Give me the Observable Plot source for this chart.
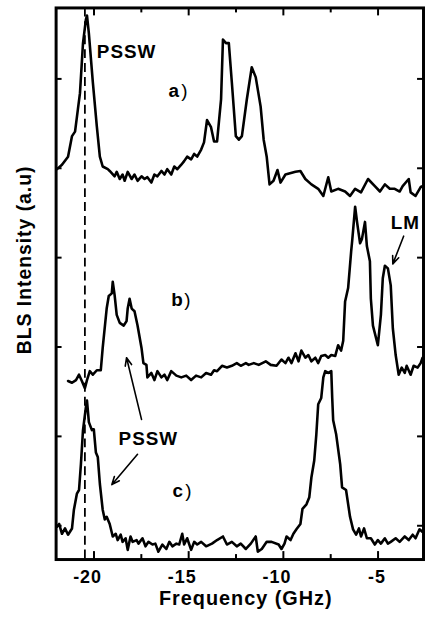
<!DOCTYPE html>
<html>
<head>
<meta charset="utf-8">
<script src="https://cdn.jsdelivr.net/npm/d3@7"></script>
<script src="https://cdn.jsdelivr.net/npm/@observablehq/plot@0.6"></script>
<style>
  html, body { margin: 0; padding: 0; overflow: hidden; background: #fff; }
  svg text { letter-spacing: 1px; }
</style>
</head>
<body>
<div id="chart"></div>
<script>
// BLS spectra (anti-Stokes side), stacked with vertical offsets: [frequency GHz, intensity a.u.]
const spectrumA = [
  [-21.95,3.99],[-21.69,4.04],[-21.37,4.13],[-21.16,4.36],[-21.00,4.41],[-20.85,4.66],[-20.74,4.84],
  [-20.58,5.40],[-20.43,5.66],[-20.37,5.71],[-20.27,5.51],[-20.06,4.96],[-19.85,4.47],[-19.69,4.13],
  [-19.54,4.02],[-19.27,3.99],[-19.17,3.97],[-18.91,3.91],[-18.80,3.96],[-18.64,3.88],[-18.49,3.93],
  [-18.38,3.86],[-18.22,3.96],[-18.01,3.88],[-17.86,3.93],[-17.70,3.86],[-17.49,3.91],[-17.33,3.88],
  [-17.18,3.90],[-16.97,3.84],[-16.81,3.93],[-16.65,3.91],[-16.44,3.97],[-16.28,3.93],[-16.13,3.99],
  [-15.92,3.93],[-15.76,4.02],[-15.60,3.99],[-15.39,4.04],[-15.24,4.08],[-15.08,4.13],[-14.87,4.10],
  [-14.71,4.16],[-14.55,4.13],[-14.34,4.21],[-14.19,4.29],[-14.03,4.54],[-13.82,4.46],[-13.66,4.30],
  [-13.50,4.30],[-13.29,4.77],[-13.19,5.44],[-13.03,5.40],[-12.88,5.40],[-12.72,4.96],[-12.51,4.36],
  [-12.35,4.32],[-12.19,4.36],[-11.93,4.77],[-11.67,5.13],[-11.46,5.02],[-11.20,4.69],[-11.04,4.32],
  [-10.88,4.13],[-10.73,3.82],[-10.52,3.86],[-10.31,3.98],[-10.15,3.84],[-9.89,3.93],[-9.36,3.96],
  [-9.10,3.97],[-8.84,3.88],[-8.52,3.82],[-8.16,3.77],[-7.89,3.69],[-7.63,3.90],[-7.47,3.74],
  [-7.11,3.77],[-6.74,3.74],[-6.48,3.69],[-6.21,3.77],[-5.90,3.73],[-5.53,3.88],[-5.17,3.80],
  [-4.90,3.74],[-4.64,3.82],[-4.38,3.77],[-4.12,3.77],[-3.86,3.74],[-3.70,3.80],[-3.38,3.88],
  [-3.28,3.73],[-3.02,3.69],[-2.75,3.79],[-2.65,3.80]
];

const spectrumB = [
  [-21.37,1.62],[-21.16,1.60],[-20.95,1.63],[-20.79,1.69],[-20.64,1.62],[-20.48,1.54],[-20.37,1.63],
  [-20.22,1.73],[-20.06,1.69],[-19.85,1.74],[-19.64,1.74],[-19.54,1.99],[-19.33,2.43],[-19.22,2.57],
  [-19.06,2.60],[-19.01,2.73],[-18.91,2.58],[-18.80,2.36],[-18.64,2.27],[-18.43,2.24],[-18.28,2.29],
  [-18.22,2.43],[-18.12,2.54],[-18.01,2.43],[-17.86,2.40],[-17.70,2.24],[-17.49,1.99],[-17.39,1.82],
  [-17.23,1.80],[-17.18,1.66],[-16.97,1.71],[-16.81,1.63],[-16.65,1.73],[-16.44,1.66],[-16.28,1.69],
  [-16.13,1.63],[-15.92,1.73],[-15.65,1.68],[-15.39,1.66],[-15.13,1.68],[-14.87,1.63],[-14.61,1.68],
  [-14.34,1.66],[-14.08,1.71],[-13.82,1.69],[-13.66,1.74],[-13.50,1.73],[-13.24,1.79],[-12.98,1.77],
  [-12.72,1.79],[-12.46,1.82],[-12.25,1.79],[-11.98,1.82],[-11.83,1.80],[-11.56,1.82],[-11.30,1.80],
  [-10.93,1.84],[-10.67,1.80],[-10.36,1.79],[-10.10,1.86],[-9.89,1.82],[-9.73,1.88],[-9.57,1.82],
  [-9.36,1.93],[-9.20,1.84],[-9.05,1.96],[-8.84,1.88],[-8.68,1.91],[-8.52,1.84],[-8.31,1.88],
  [-8.16,1.82],[-8.00,1.90],[-7.79,1.91],[-7.63,1.88],[-7.47,1.91],[-7.26,1.90],[-7.11,2.02],
  [-6.95,1.96],[-6.84,2.07],[-6.74,2.51],[-6.58,2.66],[-6.42,3.07],[-6.37,3.18],[-6.21,3.57],
  [-6.11,3.40],[-5.95,3.16],[-5.85,3.21],[-5.69,3.40],[-5.59,3.13],[-5.43,2.96],[-5.38,2.54],
  [-5.27,2.24],[-5.01,2.02],[-4.85,2.36],[-4.75,2.77],[-4.64,2.91],[-4.48,2.88],[-4.33,2.69],
  [-4.22,2.21],[-4.07,1.91],[-3.91,1.69],[-3.75,1.77],[-3.59,1.71],[-3.49,1.79],[-3.28,1.69],
  [-3.12,1.79],[-2.91,1.77],[-2.75,1.82],[-2.65,1.88]
];

const spectrumC = [
  [-21.95,-0.01],[-21.84,0.02],[-21.69,-0.09],[-21.53,-0.03],[-21.37,-0.10],[-21.16,-0.03],[-21.06,0.18],
  [-20.90,0.36],[-20.79,0.40],[-20.69,0.69],[-20.58,1.07],[-20.43,1.32],[-20.37,1.40],[-20.27,1.16],
  [-20.11,1.07],[-20.01,1.08],[-19.90,0.82],[-19.80,0.77],[-19.69,0.47],[-19.54,0.18],[-19.43,0.07],
  [-19.33,0.10],[-19.17,0.02],[-19.01,-0.12],[-18.85,-0.09],[-18.75,-0.16],[-18.59,-0.10],[-18.49,-0.18],
  [-18.33,-0.14],[-18.22,-0.27],[-18.07,-0.12],[-17.96,-0.18],[-17.75,-0.16],[-17.65,-0.20],[-17.44,-0.14],
  [-17.28,-0.23],[-17.12,-0.18],[-16.91,-0.21],[-16.76,-0.20],[-16.60,-0.29],[-16.39,-0.21],[-16.18,-0.26],
  [-16.02,-0.18],[-15.86,-0.23],[-15.65,-0.20],[-15.50,-0.21],[-15.34,-0.09],[-15.24,-0.21],[-15.08,-0.14],
  [-14.87,-0.27],[-14.71,-0.18],[-14.55,-0.21],[-14.34,-0.18],[-14.08,-0.23],[-13.77,-0.20],[-13.50,-0.16],
  [-13.19,-0.12],[-12.98,-0.21],[-12.72,-0.18],[-12.46,-0.23],[-12.25,-0.20],[-11.98,-0.26],[-11.72,-0.20],
  [-11.46,-0.12],[-11.35,-0.29],[-11.14,-0.26],[-10.88,-0.18],[-10.62,-0.18],[-10.25,-0.21],[-10.10,-0.26],
  [-9.94,-0.20],[-9.83,-0.12],[-9.62,-0.16],[-9.47,-0.09],[-9.31,-0.04],[-9.10,0.02],[-8.99,0.19],
  [-8.78,0.24],[-8.63,0.32],[-8.52,0.54],[-8.37,0.73],[-8.26,1.02],[-8.16,1.36],[-8.00,1.43],
  [-7.89,1.66],[-7.79,1.73],[-7.63,1.71],[-7.47,1.73],[-7.42,1.43],[-7.37,1.18],[-7.21,1.02],
  [-7.00,0.69],[-6.90,0.43],[-6.69,0.40],[-6.48,0.10],[-6.32,-0.04],[-6.16,-0.10],[-6.01,-0.03],
  [-5.90,-0.12],[-5.74,-0.03],[-5.59,-0.14],[-5.38,-0.14],[-5.17,-0.21],[-5.01,-0.16],[-4.85,-0.20],
  [-4.64,-0.14],[-4.48,-0.20],[-4.33,-0.18],[-4.07,-0.14],[-3.86,-0.18],[-3.59,-0.12],[-3.38,-0.16],
  [-3.17,-0.10],[-3.02,-0.14],[-2.81,-0.04],[-2.65,-0.07]
];

// PSSW reference frequency (dashed line)
const psswFrequency = [-20.48];

// Axis ticks
const majorTicks = [-20, -15, -10, -5];
const minorTicks = [-17.5, -12.5, -7.5];
const yTicks = [0, 1, 2, 3, 4, 5];

// Annotations
const boldLabels = [
  {text: "PSSW", f: -19.85, v: 5.23},
  {text: "LM", f: -4.33, v: 3.32},
  {text: "PSSW", f: -18.70, v: 0.90}
];
const panelLabels = [
  {text: "a", f: -16.07, v: 4.80},
  {text: "b", f: -15.92, v: 2.46},
  {text: "c", f: -15.86, v: 0.32}
];
const arrows = [
  {f1: -17.49, v1: 1.19, f2: -18.28, v2: 1.88},
  {f1: -17.70, v1: 0.80, f2: -19.06, v2: 0.46},
  {f1: -3.65, v1: 3.24, f2: -4.22, v2: 2.93}
];

const width = 428, height = 622;
const marginTop = 7.5, marginBottom = 59, marginLeft = 56, marginRight = 2;
const frameW = width - marginLeft - marginRight;
const frameH = height - marginTop - marginBottom;
const font = "'Liberation Sans', Arial, Helvetica, sans-serif";

const chart = Plot.plot({
  width, height, marginTop, marginBottom, marginLeft, marginRight,
  style: {fontFamily: font, background: "#fff", color: "#000"},
  x: {domain: [-22, -2.6], axis: null},
  y: {domain: [-0.378, 5.794], axis: null},
  marks: [
    Plot.ruleX(psswFrequency, {x: d => d, stroke: "#000", strokeWidth: 1.8, strokeDasharray: "9,5"}),
    ...[spectrumA, spectrumB, spectrumC].map(s =>
      Plot.line(s, {x: d => d[0], y: d => d[1], stroke: "#000", strokeWidth: 2.6, strokeLinejoin: "round"})
    ),
    // inward ticks on all four sides
    Plot.tickX(majorTicks, {x: d => d, insetTop: frameH - 8, strokeWidth: 2}),
    Plot.tickX(minorTicks, {x: d => d, insetTop: frameH - 5, strokeWidth: 2}),
    Plot.tickX(majorTicks, {x: d => d, insetBottom: frameH - 8, strokeWidth: 2}),
    Plot.tickX(minorTicks, {x: d => d, insetBottom: frameH - 5, strokeWidth: 2}),
    Plot.tickY(yTicks, {y: d => d, insetRight: frameW - 6, strokeWidth: 2}),
    Plot.tickY(yTicks, {y: d => d, insetLeft: frameW - 6, strokeWidth: 2}),
    Plot.frame({stroke: "#000", strokeWidth: 3}),
    // tick labels and axis titles
    Plot.text(majorTicks, {
      x: d => d, text: d => String(d), frameAnchor: "bottom", dy: 24, dx: 8,
      textAnchor: "end", lineAnchor: "bottom", fontSize: 18, fontWeight: "bold"
    }),
    Plot.text(["Frequency (GHz)"], {
      text: d => d, frameAnchor: "bottom", dy: 46, dx: 6,
      lineAnchor: "bottom", fontSize: 20, fontWeight: "bold"
    }),
    Plot.text(["BLS Intensity (a.u)"], {
      text: d => d, frameAnchor: "left", dx: -32, dy: -24, rotate: -90,
      textAnchor: "middle", lineAnchor: "middle", fontSize: 19.5, fontWeight: "bold"
    }),
    // annotations
    Plot.text(boldLabels, {
      x: "f", y: "v", text: "text", textAnchor: "start", lineAnchor: "bottom",
      fontSize: 19, fontWeight: "bold"
    }),
    Plot.text(panelLabels, {
      x: "f", y: "v", text: "text", textAnchor: "start", lineAnchor: "bottom",
      fontSize: 19, fontWeight: "bold"
    }),
    Plot.text(panelLabels, {
      x: "f", y: "v", text: () => ")", dx: 13, textAnchor: "start", lineAnchor: "bottom",
      fontSize: 19, fontWeight: "normal"
    }),
    Plot.arrow(arrows, {
      x1: "f1", y1: "v1", x2: "f2", y2: "v2", stroke: "#000",
      strokeWidth: 1.6, headLength: 8, headAngle: 45
    })
  ]
});

document.getElementById("chart").appendChild(chart);
</script>
</body>
</html>
